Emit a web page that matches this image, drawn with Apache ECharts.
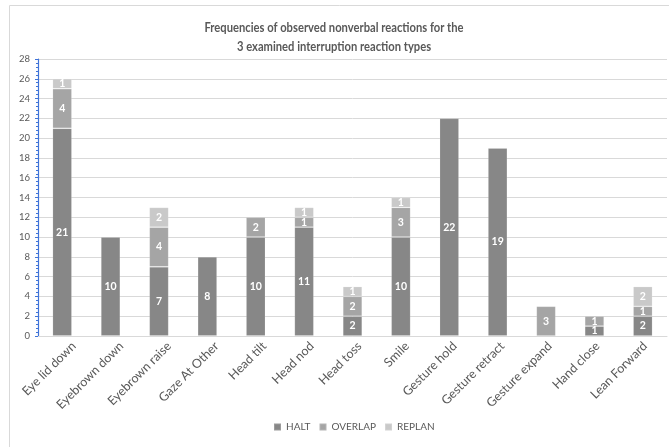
<!DOCTYPE html>
<html>
<head>
<meta charset="utf-8">
<script src="https://cdn.jsdelivr.net/npm/echarts@6/dist/echarts.min.js"></script>
<style>
html,body{margin:0;padding:0;background:#fff;}
#chart{width:669px;height:447px;}
</style>
</head>
<body>
<div id="chart"></div>
<script>
const categories = ['Eye lid down','Eyebrown down','Eyebrown raise','Gaze At Other','Head tilt','Head nod','Head toss','Smile','Gesture hold','Gesture retract','Gesture expand','Hand close','Lean Forward'];
const halt    = [21, 10, 7, 8, 10, 11, 2, 10, 22, 19, null, 1, 2];
const overlap = [4, null, 4, null, 2, 1, 2, 3, null, null, 3, 1, 1];
const replan  = [1, null, 2, null, null, 1, 1, 1, null, null, null, null, 2];
const seriesNames = ['HALT','OVERLAP','REPLAN'];
const yTicks = [0,2,4,6,8,10,12,14,16,18,20,22,24,26,28];
const titleText = 'Frequencies of observed nonverbal reactions for the\n3 examined interruption reaction types';

const FONT = 'Lato, "Open Sans", sans-serif';
const colors = ['#878787','#a5a5a5','#c9c9c9'];
const chart = echarts.init(document.getElementById('chart'), null, {renderer:'canvas'});

function mk(name, data, color){
  return {
    name: name, type: 'bar', stack: 'total', data: data,
    barCategoryGap: '60%',
    itemStyle: {color: color, borderColor: 'rgba(255,255,255,0.18)', borderWidth: 0.8},
    label: {show: true, position: 'inside', color: '#ffffff', fontSize: 10.5, fontWeight: 'bold', fontFamily: FONT},
    emphasis: {disabled: true}
  };
}

const LABEL_SHIFT = 12;

chart.setOption({
  animation: false,
  textStyle: {fontFamily: FONT},
  graphic: [{
    type: 'rect', left: 7, top: 3, silent: true,
    shape: {width: 680, height: 442},
    style: {fill: 'none', stroke: '#d9d9d9', lineWidth: 1}
  }, {
    type: 'text', x: 334, y: 18, scaleX: 0.8, silent: true,
    style: {text: titleText, fontFamily: FONT, fontSize: 14, fontWeight: 'bold', fill: '#595959',
            lineHeight: 19, align: 'center', verticalAlign: 'top'}
  }],
  legend: {
    data: seriesNames, bottom: 10, left: 268,
    itemWidth: 7, itemHeight: 7, itemGap: 8, icon: 'rect',
    textStyle: {fontFamily: FONT, fontSize: 10, color: '#595959'}
  },
  grid: [
    {left: 38, right: 2, top: 59, bottom: 111, containLabel: false},
    {left: 38 + LABEL_SHIFT, right: 2 - LABEL_SHIFT, top: 59, bottom: 111, containLabel: false}
  ],
  xAxis: [{
    type: 'category', data: categories, gridIndex: 0,
    axisLine: {show: true, lineStyle: {color: '#d9d9d9'}},
    axisTick: {show: false},
    axisLabel: {show: false}
  }, {
    type: 'category', data: categories, gridIndex: 1,
    axisLine: {show: false}, axisTick: {show: false}, splitLine: {show: false},
    axisLabel: {rotate: 45, interval: 0, fontSize: 12.5, color: '#595959', fontFamily: FONT, margin: 8}
  }],
  yAxis: [{
    type: 'value', gridIndex: 0, min: yTicks[0], max: yTicks[yTicks.length-1], interval: 2,
    axisLine: {show: true, lineStyle: {color: '#3f73d8', width: 1.2}},
    axisTick: {show: true, length: 3, inside: false, lineStyle: {color: '#3f73d8'}},
    minorTick: {show: true, splitNumber: 5, length: 2, lineStyle: {color: '#3f73d8'}},
    axisLabel: {fontSize: 9.5, color: '#595959', fontFamily: FONT, margin: 8},
    splitLine: {show: true, lineStyle: {color: '#d9d9d9'}}
  }, {
    type: 'value', gridIndex: 1, show: false, min: yTicks[0], max: yTicks[yTicks.length-1],
    splitLine: {show: false}
  }],
  series: [mk(seriesNames[0], halt, colors[0]), mk(seriesNames[1], overlap, colors[1]), mk(seriesNames[2], replan, colors[2])]
});
</script>
</body>
</html>
